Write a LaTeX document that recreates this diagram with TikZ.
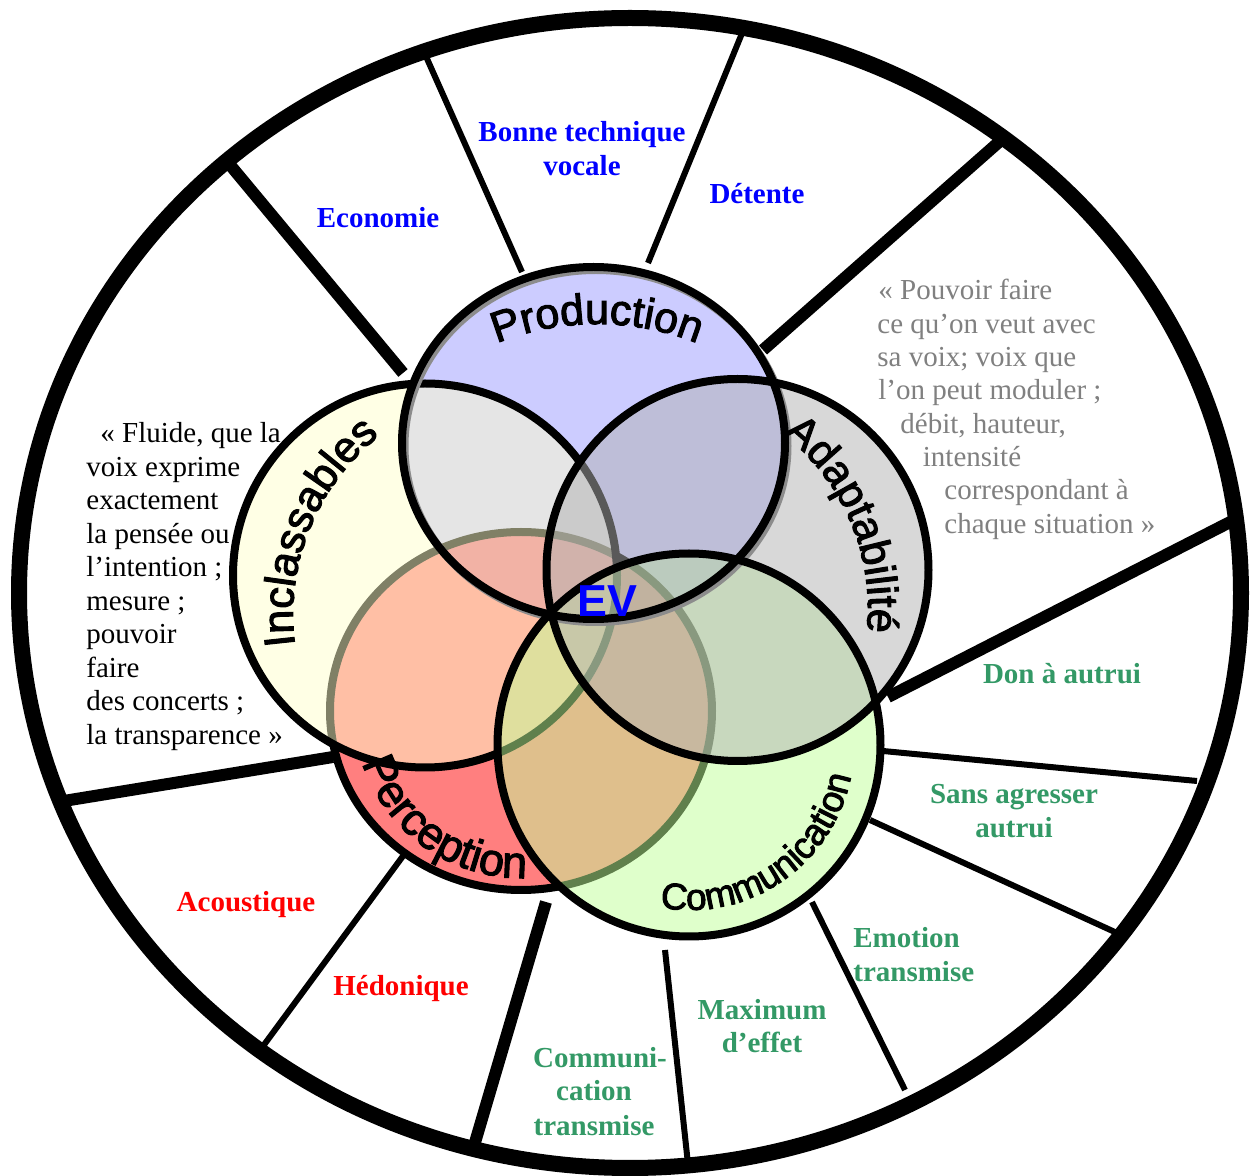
\documentclass[tikz,border=0pt]{standalone}
\usepackage{fontspec}
\setmainfont{Liberation Serif}
\setsansfont{Liberation Sans}
\newfontfamily\arcfam{Liberation Sans}[FakeBold=2.5]
\usetikzlibrary{decorations.text}
\definecolor{prodblue}{RGB}{204,204,255}
\definecolor{percred}{RGB}{255,0,0}
\definecolor{inclyellow}{RGB}{255,255,204}
\definecolor{commgreen}{RGB}{193,255,153}
\definecolor{adaptgray}{RGB}{178,178,178}
\definecolor{labblue}{RGB}{0,0,255}
\definecolor{labred}{RGB}{255,0,0}
\definecolor{labgreen}{RGB}{51,153,102}
\definecolor{quotegray}{RGB}{128,128,128}
\newcommand\arcfont{\arcfam\fontsize{21.5}{21.5}\selectfont}
\newcommand\arcfontmid{\arcfam\fontsize{22.5}{22.5}\selectfont}
\newcommand\arcfontsmall{\arcfam\fontsize{18.5}{18.5}\selectfont}
\begin{document}
\begin{tikzpicture}[x=0.5pt,y=-0.5pt,
  outl/.style={line width=4pt},
  shadow/.style={line width=4pt, draw=black!45},
  thickspoke/.style={line width=6pt},
  thinspoke/.style={line width=3pt},
  ringline/.style={line width=8pt},
  quote/.style={font=\fontsize{14.5}{17}\selectfont, inner sep=0pt, anchor=base west},
  graytext/.style={quote, text=quotegray},
  lab/.style={font=\bfseries\fontsize{14.5}{17}\selectfont, inner sep=0pt, anchor=base},
  bluelab/.style={lab, text=labblue},
  redlab/.style={lab, text=labred},
  greenlab/.style={lab, text=labgreen},
  arclab/.style={decorate, decoration={text along path, text align=center, text={#1}}}
]
\useasboundingbox (0,0) rectangle (1250,1176);
\fill[white] (0,0) rectangle (1250,1176);

% spokes, clipped to the ring
\begin{scope}
  \clip (630,593) ellipse [x radius=611, y radius=575];
  \draw[thickspoke] (403,373) -- (206,136);
  \draw[thinspoke]  (522,272) -- (412,25);
  \draw[thinspoke]  (648,263) -- (754,4);
  \draw[thickspoke] (763,350) -- (1033,112);
  \draw[thickspoke] (888,697) -- (1281,496);
  \draw[thinspoke]  (883,751) -- (1197,781);
  \draw[thinspoke]  (870,820) -- (1152,949);
  \draw[thinspoke]  (812,902) -- (905,1090);
  \draw[thinspoke]  (665,950) -- (691,1192);
  \draw[thickspoke] (546,902) -- (466,1173);
  \draw[thinspoke]  (403,856) -- (219,1106);
  \draw[thickspoke] (333,757) -- (27,807);
\end{scope}
\draw[ringline] (630,593) ellipse [x radius=611, y radius=575];

% circles
\fill[prodblue] (593.5,443) ellipse [x radius=191.5, y radius=176];
\fill[percred, fill opacity=0.5] (521,711) ellipse [x radius=191, y radius=179];
\draw[outl] (521,711) ellipse [x radius=191, y radius=179];
\fill[inclyellow, fill opacity=0.5] (425,575.5) circle [radius=192];
\draw[outl] (425,575.5) circle [radius=192];
\fill[commgreen, fill opacity=0.5] (689,745) circle [radius=191.5];
\fill[adaptgray, fill opacity=0.5] (737.5,570) circle [radius=191];
\draw[shadow] (596,446) ellipse [x radius=191.5, y radius=176];
\draw[outl] (593.5,443) ellipse [x radius=191.5, y radius=176];
\draw[outl] (737.5,570) circle [radius=191];
\draw[outl] (689,745) circle [radius=191.5];

% curved labels
\path[arclab={|\arcfont|Production}] (597,594) ++(-125:270) arc [start angle=-125, end angle=-55, radius=270];
\path[arclab={|\arcfont|Inclassables}] (522,615) ++(167:229) arc [start angle=167, end angle=237, radius=229];
\path[arclab={|\arcfont|Adaptabilité}] (648,608) ++(-58:220) arc [start angle=-58, end angle=12, radius=220];
\path[arclab={|\arcfontmid|Perception}] (521,711) ++(175:167) arc [start angle=175, end angle=75, radius=167];
\path[arclab={|\arcfontsmall|Communication}] (689,745) ++(108:165) arc [start angle=108, end angle=3, radius=165];

\node[font=\sffamily\bfseries\fontsize{22.4}{22.4}\selectfont, text=labblue, inner sep=0pt, anchor=base] (ev) at (607.5,617) {EV};

% sector labels
\node[bluelab] (econ) at (378,228) {Economie};
\node[bluelab] (bonne1) at (582,142) {Bonne technique};
\node[bluelab] (bonne2) at (582,176) {vocale};
\node[bluelab] (detente) at (757,204) {Détente};
\node[greenlab] (don) at (1062,684) {Don à autrui};
\node[greenlab] (sans1) at (1014,804) {Sans agresser};
\node[greenlab] (sans2) at (1014,838) {autrui};
\node[greenlab, anchor=base west] (emo1) at (853,948) {Emotion};
\node[greenlab, anchor=base west] (emo2) at (853,982) {transmise};
\node[greenlab] (max1) at (762,1020) {Maximum};
\node[greenlab] (max2) at (762,1053) {d’effet};
\node[greenlab] (com1) at (600,1068) {Communi-};
\node[greenlab] (com2) at (594,1101) {cation};
\node[greenlab] (com3) at (594,1136) {transmise};
\node[redlab] (acou) at (246,912) {Acoustique};
\node[redlab] (hedo) at (401,996) {Hédonique};

% quotes
\node[quote] (fl1) at (100,443) {« Fluide, que la};
\node[quote] (fl2) at (86,476.5) {voix exprime};
\node[quote] (fl3) at (86,510) {exactement};
\node[quote] (fl4) at (86,543.5) {la pensée ou};
\node[quote] (fl5) at (86,577) {l’intention ;};
\node[quote] (fl6) at (86,610.5) {mesure ;};
\node[quote] (fl7) at (86,644) {pouvoir};
\node[quote] (fl8) at (86,677.5) {faire};
\node[quote] (fl9) at (86,711) {des concerts ;};
\node[quote] (fl10) at (86,744.5) {la transparence »};

\node[graytext] (pv1) at (878,300) {« Pouvoir faire};
\node[graytext] (pv2) at (877,333.3) {ce qu’on veut avec};
\node[graytext] (pv3) at (877,366.7) {sa voix; voix que};
\node[graytext] (pv4) at (878,400) {l’on peut moduler ;};
\node[graytext] (pv5) at (900,433.3) {débit, hauteur,};
\node[graytext] (pv6) at (922.5,466.7) {intensité};
\node[graytext] (pv7) at (944,500) {correspondant à};
\node[graytext] (pv8) at (944,533.3) {chaque situation »};
\end{tikzpicture}
\end{document}
